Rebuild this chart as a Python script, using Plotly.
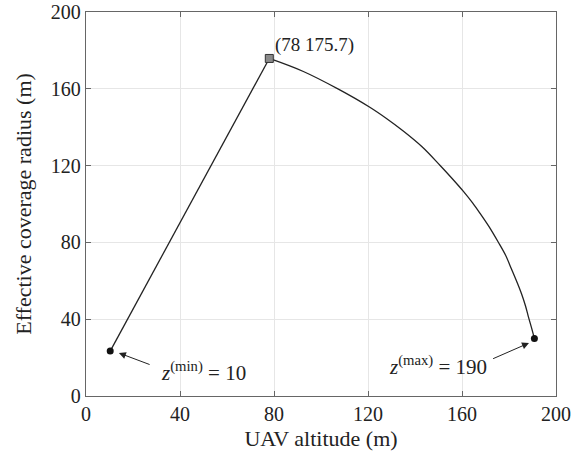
import plotly.graph_objects as go

# UAV altitude (m) and effective coverage radius (m)
rise_x = [10.3, 78]
rise_y = [23.4, 175.8]
arc_x = [78, 92.5, 107.4, 120.6, 128.0, 135.0, 143.0, 150.6, 155.5, 160.6, 164.5, 167.7,
         171.5, 175.4, 178.5, 181.1, 183.5, 185.4, 187.0, 188.2, 189.6, 190.8]
arc_y = [175.8, 169.0, 159.8, 150.5, 144.4, 138.0, 129.8, 120.2, 113.7, 106.6, 100.6, 95.1,
         88.2, 80.2, 73.4, 66.0, 59.0, 53.0, 47.0, 41.5, 35.5, 30.0]

peak_x = [78]
peak_y = [175.8]
end_x = [10.3, 190.8]
end_y = [23.4, 30.0]

x_ticks = [0, 40, 80, 120, 160, 200]
y_ticks = [0, 40, 80, 120, 160, 200]

FONT = "Times New Roman, serif"
INK = "#222222"
fig = go.Figure()
fig.add_trace(go.Scatter(x=rise_x, y=rise_y, mode="lines",
                         line=dict(color=INK, width=1.3), showlegend=False, hoverinfo="skip"))
fig.add_trace(go.Scatter(x=arc_x, y=arc_y, mode="lines",
                         line=dict(color=INK, width=1.3, shape="spline", smoothing=1.0),
                         showlegend=False, hoverinfo="skip"))
fig.add_trace(go.Scatter(x=end_x, y=end_y, mode="markers",
                         marker=dict(color="#111111", size=7, symbol="circle"),
                         showlegend=False))
fig.add_trace(go.Scatter(x=peak_x, y=peak_y, mode="markers",
                         marker=dict(color="#8a8a8a", size=8, symbol="square",
                                     line=dict(color="#333333", width=1)),
                         showlegend=False))

axis_common = dict(range=[0, 200], showgrid=True, gridcolor="#e6e6e6", gridwidth=1,
                   zeroline=False, showline=True, linecolor="#666666", linewidth=1.3,
                   mirror="ticks", ticks="inside", ticklen=5, tickcolor="#666666",
                   automargin=False,
                   tickfont=dict(family=FONT, size=20, color=INK))

fig.update_xaxes(tickvals=x_ticks, ticktext=[str(v) for v in x_ticks],
                 title=dict(text="UAV altitude (m)", font=dict(family=FONT, size=22, color=INK),
                            standoff=6),
                 **axis_common)
fig.update_yaxes(tickvals=y_ticks, ticktext=[str(v) for v in y_ticks],
                 title=dict(text="Effective coverage radius (m)", font=dict(family=FONT, size=22, color=INK),
                            standoff=13),
                 **axis_common)

annots = [
    dict(x=79.5, y=182.8, xref="x", yref="y", text="(78 175.7)", showarrow=False,
         xanchor="left", yanchor="middle", font=dict(family=FONT, size=19, color=INK)),
    dict(x=31.0, y=13.0, xref="x", yref="y", text="<i>z</i><sup>(min)</sup> = 10", showarrow=False,
         xanchor="left", yanchor="middle", font=dict(family=FONT, size=21, color=INK)),
    dict(x=128.0, y=16.0, xref="x", yref="y", text="<i>z</i><sup>(max)</sup> = 190", showarrow=False,
         xanchor="left", yanchor="middle", font=dict(family=FONT, size=21, color=INK)),
    dict(x=14.0, y=22.4, ax=27.7, ay=16.1, xref="x", yref="y", axref="x", ayref="y", text="",
         showarrow=True, arrowhead=2, arrowsize=1.4, arrowwidth=1, arrowcolor=INK, standoff=0),
    dict(x=188.5, y=27.6, ax=172.6, ay=19.1, xref="x", yref="y", axref="x", ayref="y", text="",
         showarrow=True, arrowhead=2, arrowsize=1.4, arrowwidth=1, arrowcolor=INK, standoff=0),
]

fig.update_layout(width=586, height=462, margin=dict(l=86, r=30, t=12, b=66),
                  plot_bgcolor="white", paper_bgcolor="white", annotations=annots,
                  font=dict(family=FONT), hovermode=False)
fig.write_html("out.html", config={"displayModeBar": False},
               post_script="document.body.style.margin='0';")
